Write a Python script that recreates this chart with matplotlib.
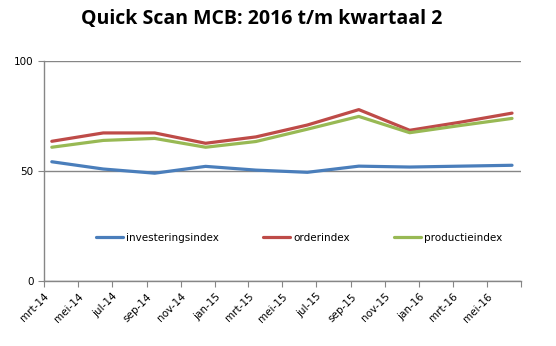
import datetime
import matplotlib
matplotlib.use("Agg")
import matplotlib.pyplot as plt
import matplotlib.dates as mdates
from matplotlib.ticker import FuncFormatter

##########################################
# Data (quarterly)
dates = [datetime.date(2014, 3, 15), datetime.date(2014, 6, 15), datetime.date(2014, 9, 15),
         datetime.date(2014, 12, 15), datetime.date(2015, 3, 15), datetime.date(2015, 6, 15),
         datetime.date(2015, 9, 15), datetime.date(2015, 12, 15), datetime.date(2016, 3, 15),
         datetime.date(2016, 6, 15)]
investeringsindex = [54.2, 50.9, 49.0, 52.1, 50.4, 49.4, 52.2, 51.8, 52.2, 52.6]
orderindex = [63.5, 67.3, 67.3, 62.6, 65.5, 70.9, 77.9, 68.5, 72.2, 76.3]
productieindex = [60.8, 63.9, 64.8, 60.8, 63.4, 69.0, 74.8, 67.4, 70.7, 73.9]

series_names = ["investeringsindex", "orderindex", "productieindex"]
colors = ["#4A7EBB", "#BE4B48", "#98B954"]
dutch_months = ["jan", "feb", "mrt", "apr", "mei", "jun", "jul", "aug", "sep", "okt", "nov", "dec"]

##########################################
fig = plt.figure(figsize=(5.56, 3.46), dpi=100)
ax = fig.add_axes([0.0791, 0.1879, 0.8579, 0.6358])

for vals, name, col in zip([investeringsindex, orderindex, productieindex], series_names, colors):
    ax.plot(dates, vals, color=col, linewidth=2.3, label=name, solid_capstyle="round")

ax.set_ylim(0, 100)
ax.set_yticks([0, 50, 100])
ax.set_xlim(datetime.date(2014, 3, 1), datetime.date(2016, 7, 1))
ax.xaxis.set_major_locator(mdates.MonthLocator(bymonth=[1, 3, 5, 7, 9, 11]))


def month_label(x, pos):
    d = mdates.num2date(x)
    if d.year == 2016 and d.month == 7:
        return ""
    return "%s-%02d" % (dutch_months[d.month - 1], d.year % 100)


ax.xaxis.set_major_formatter(FuncFormatter(month_label))

ax.grid(axis="y", color="#868686", linewidth=1)
ax.set_axisbelow(True)
for side in ["top", "right"]:
    ax.spines[side].set_visible(False)
for side in ["left", "bottom"]:
    ax.spines[side].set_color("#868686")
    ax.spines[side].set_linewidth(1)

ax.tick_params(axis="both", color="#868686", length=4, labelsize=7.5, colors="#868686")
ax.tick_params(axis="both", labelcolor="black")
for lbl in ax.get_xticklabels():
    lbl.set_rotation(45)
    lbl.set_ha("right")
    lbl.set_rotation_mode("anchor")

ax.legend(loc="center", bbox_to_anchor=(0.535, 0.195), ncol=3, frameon=False,
          fontsize=7.5, handlelength=2.6, handletextpad=0.3, columnspacing=4.2)

fig.suptitle("Quick Scan MCB: 2016 t/m kwartaal 2", x=0.47, y=0.975,
             fontsize=14, fontweight="bold", family="Open Sans")

fig.savefig("out.png", dpi=100)
